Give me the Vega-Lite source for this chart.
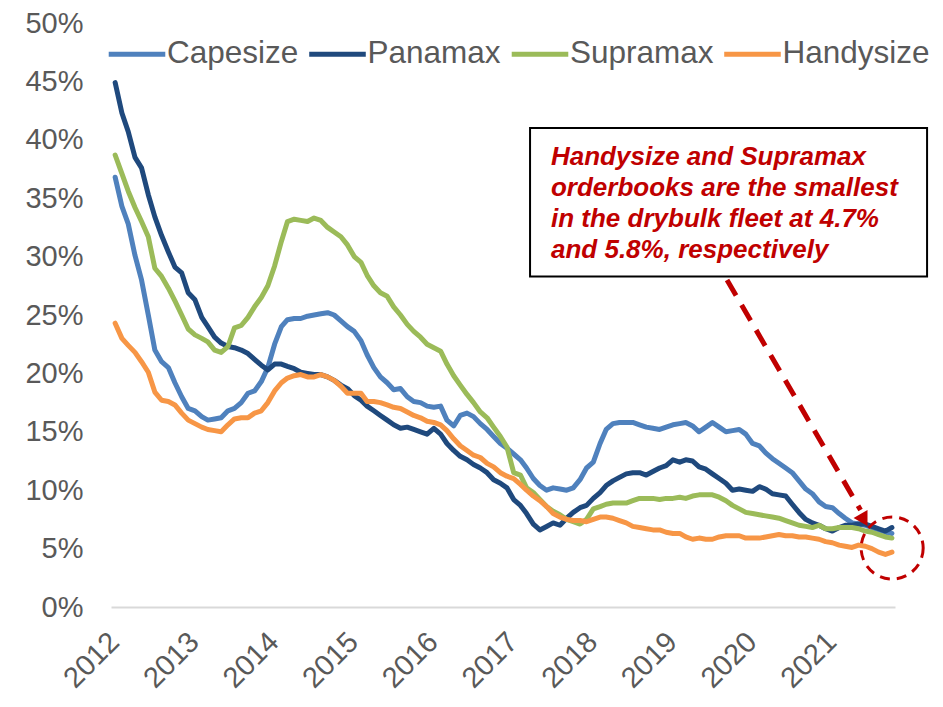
{
  "$schema": "https://vega.github.io/schema/vega-lite/v6.json",
  "width": 784,
  "height": 584,
  "autosize": {"type": "none"},
  "padding": {"left": 111, "top": 23, "right": 48, "bottom": 100},
  "background": "white",
  "config": {
    "font": "Liberation Sans",
    "view": {"stroke": null},
    "axisX": {"labelAngle": -45, "labelFontSize": 29, "labelColor": "#595959", "ticks": false, "grid": false, "domainColor": "#D9D9D9", "domainWidth": 2, "labelPadding": 20, "labelOffset": -11, "labelOverlap": false, "labelFlush": false},
    "axisY": {"domain": false, "ticks": false, "grid": false, "labelFontSize": 29, "labelColor": "#595959", "labelPadding": 28}
  },
  "layer": [
    {
      "data": {"values": [
        {"d":"2012-01-01","Capesize":36.8,"Panamax":44.9,"Supramax":38.7,"Handysize":24.3},
        {"d":"2012-02-01","Capesize":34.3,"Panamax":42.3,"Supramax":37.1,"Handysize":23.0},
        {"d":"2012-03-01","Capesize":32.8,"Panamax":40.7,"Supramax":35.6,"Handysize":22.4},
        {"d":"2012-04-01","Capesize":30.1,"Panamax":38.5,"Supramax":34.2,"Handysize":21.8},
        {"d":"2012-05-01","Capesize":28.0,"Panamax":37.6,"Supramax":33.0,"Handysize":21.0},
        {"d":"2012-06-01","Capesize":25.0,"Panamax":35.3,"Supramax":31.7,"Handysize":20.1},
        {"d":"2012-07-01","Capesize":22.0,"Panamax":33.4,"Supramax":29.0,"Handysize":18.4},
        {"d":"2012-08-01","Capesize":21.0,"Panamax":31.8,"Supramax":28.3,"Handysize":17.7},
        {"d":"2012-09-01","Capesize":20.5,"Panamax":30.4,"Supramax":27.3,"Handysize":17.6},
        {"d":"2012-10-01","Capesize":19.2,"Panamax":29.1,"Supramax":26.2,"Handysize":17.3},
        {"d":"2012-11-01","Capesize":18.0,"Panamax":28.6,"Supramax":25.0,"Handysize":16.6},
        {"d":"2012-12-01","Capesize":17.0,"Panamax":26.9,"Supramax":23.8,"Handysize":16.0},
        {"d":"2013-01-01","Capesize":16.8,"Panamax":26.3,"Supramax":23.3,"Handysize":15.7},
        {"d":"2013-02-01","Capesize":16.3,"Panamax":24.8,"Supramax":23.0,"Handysize":15.4},
        {"d":"2013-03-01","Capesize":16.0,"Panamax":24.0,"Supramax":22.7,"Handysize":15.2},
        {"d":"2013-04-01","Capesize":16.1,"Panamax":23.1,"Supramax":22.0,"Handysize":15.1},
        {"d":"2013-05-01","Capesize":16.2,"Panamax":22.6,"Supramax":21.8,"Handysize":15.0},
        {"d":"2013-06-01","Capesize":16.8,"Panamax":22.3,"Supramax":22.3,"Handysize":15.6},
        {"d":"2013-07-01","Capesize":17.0,"Panamax":22.2,"Supramax":23.9,"Handysize":16.1},
        {"d":"2013-08-01","Capesize":17.5,"Panamax":22.0,"Supramax":24.1,"Handysize":16.2},
        {"d":"2013-09-01","Capesize":18.3,"Panamax":21.7,"Supramax":24.8,"Handysize":16.2},
        {"d":"2013-10-01","Capesize":18.5,"Panamax":21.2,"Supramax":25.7,"Handysize":16.6},
        {"d":"2013-11-01","Capesize":19.3,"Panamax":20.7,"Supramax":26.5,"Handysize":16.8},
        {"d":"2013-12-01","Capesize":20.5,"Panamax":20.3,"Supramax":27.5,"Handysize":17.5},
        {"d":"2014-01-01","Capesize":22.5,"Panamax":20.8,"Supramax":29.2,"Handysize":18.5},
        {"d":"2014-02-01","Capesize":24.0,"Panamax":20.8,"Supramax":31.3,"Handysize":19.2},
        {"d":"2014-03-01","Capesize":24.6,"Panamax":20.6,"Supramax":33.0,"Handysize":19.6},
        {"d":"2014-04-01","Capesize":24.7,"Panamax":20.4,"Supramax":33.2,"Handysize":19.8},
        {"d":"2014-05-01","Capesize":24.7,"Panamax":20.1,"Supramax":33.1,"Handysize":19.9},
        {"d":"2014-06-01","Capesize":24.9,"Panamax":20.0,"Supramax":33.0,"Handysize":19.7},
        {"d":"2014-07-01","Capesize":25.0,"Panamax":19.9,"Supramax":33.3,"Handysize":19.7},
        {"d":"2014-08-01","Capesize":25.1,"Panamax":19.9,"Supramax":33.1,"Handysize":19.9},
        {"d":"2014-09-01","Capesize":25.2,"Panamax":19.7,"Supramax":32.5,"Handysize":19.7},
        {"d":"2014-10-01","Capesize":25.0,"Panamax":19.4,"Supramax":32.1,"Handysize":19.4},
        {"d":"2014-11-01","Capesize":24.5,"Panamax":19.0,"Supramax":31.7,"Handysize":18.9},
        {"d":"2014-12-01","Capesize":24.0,"Panamax":18.7,"Supramax":31.0,"Handysize":18.3},
        {"d":"2015-01-01","Capesize":23.6,"Panamax":18.1,"Supramax":30.0,"Handysize":18.3},
        {"d":"2015-02-01","Capesize":22.8,"Panamax":17.7,"Supramax":29.5,"Handysize":18.3},
        {"d":"2015-03-01","Capesize":21.6,"Panamax":17.2,"Supramax":28.4,"Handysize":17.6},
        {"d":"2015-04-01","Capesize":20.5,"Panamax":16.8,"Supramax":27.5,"Handysize":17.6},
        {"d":"2015-05-01","Capesize":19.7,"Panamax":16.4,"Supramax":26.9,"Handysize":17.5},
        {"d":"2015-06-01","Capesize":19.2,"Panamax":16.0,"Supramax":26.6,"Handysize":17.3},
        {"d":"2015-07-01","Capesize":18.6,"Panamax":15.6,"Supramax":25.7,"Handysize":17.1},
        {"d":"2015-08-01","Capesize":18.7,"Panamax":15.3,"Supramax":25.0,"Handysize":17.0},
        {"d":"2015-09-01","Capesize":18.0,"Panamax":15.4,"Supramax":24.2,"Handysize":16.7},
        {"d":"2015-10-01","Capesize":17.6,"Panamax":15.2,"Supramax":23.6,"Handysize":16.4},
        {"d":"2015-11-01","Capesize":17.5,"Panamax":15.0,"Supramax":23.1,"Handysize":16.2},
        {"d":"2015-12-01","Capesize":17.2,"Panamax":14.8,"Supramax":22.5,"Handysize":15.9},
        {"d":"2016-01-01","Capesize":17.1,"Panamax":15.3,"Supramax":22.2,"Handysize":15.8},
        {"d":"2016-02-01","Capesize":17.2,"Panamax":14.8,"Supramax":21.9,"Handysize":15.6},
        {"d":"2016-03-01","Capesize":16.0,"Panamax":14.0,"Supramax":20.8,"Handysize":15.1},
        {"d":"2016-04-01","Capesize":15.5,"Panamax":13.4,"Supramax":19.8,"Handysize":14.4},
        {"d":"2016-05-01","Capesize":16.4,"Panamax":12.9,"Supramax":19.0,"Handysize":13.8},
        {"d":"2016-06-01","Capesize":16.6,"Panamax":12.6,"Supramax":18.2,"Handysize":13.4},
        {"d":"2016-07-01","Capesize":16.3,"Panamax":12.2,"Supramax":17.5,"Handysize":13.0},
        {"d":"2016-08-01","Capesize":15.7,"Panamax":11.9,"Supramax":16.7,"Handysize":12.8},
        {"d":"2016-09-01","Capesize":15.2,"Panamax":11.5,"Supramax":16.2,"Handysize":12.3},
        {"d":"2016-10-01","Capesize":14.6,"Panamax":10.9,"Supramax":15.4,"Handysize":12.0},
        {"d":"2016-11-01","Capesize":14.0,"Panamax":10.6,"Supramax":14.6,"Handysize":11.5},
        {"d":"2016-12-01","Capesize":13.6,"Panamax":10.2,"Supramax":13.7,"Handysize":11.2},
        {"d":"2017-01-01","Capesize":13.1,"Panamax":9.2,"Supramax":11.5,"Handysize":11.0},
        {"d":"2017-02-01","Capesize":12.6,"Panamax":8.7,"Supramax":11.3,"Handysize":10.5},
        {"d":"2017-03-01","Capesize":11.9,"Panamax":8.0,"Supramax":10.2,"Handysize":10.0},
        {"d":"2017-04-01","Capesize":11.0,"Panamax":7.1,"Supramax":9.8,"Handysize":9.5},
        {"d":"2017-05-01","Capesize":10.4,"Panamax":6.6,"Supramax":9.2,"Handysize":9.1},
        {"d":"2017-06-01","Capesize":10.0,"Panamax":6.9,"Supramax":8.6,"Handysize":8.6},
        {"d":"2017-07-01","Capesize":10.2,"Panamax":7.2,"Supramax":8.2,"Handysize":8.0},
        {"d":"2017-08-01","Capesize":10.1,"Panamax":7.0,"Supramax":7.9,"Handysize":7.7},
        {"d":"2017-09-01","Capesize":10.0,"Panamax":7.6,"Supramax":7.5,"Handysize":7.5},
        {"d":"2017-10-01","Capesize":10.2,"Panamax":8.1,"Supramax":7.3,"Handysize":7.4},
        {"d":"2017-11-01","Capesize":10.9,"Panamax":8.5,"Supramax":7.1,"Handysize":7.4},
        {"d":"2017-12-01","Capesize":11.9,"Panamax":8.7,"Supramax":7.5,"Handysize":7.3},
        {"d":"2018-01-01","Capesize":12.4,"Panamax":9.3,"Supramax":8.4,"Handysize":7.5},
        {"d":"2018-02-01","Capesize":14.0,"Panamax":9.8,"Supramax":8.6,"Handysize":7.7},
        {"d":"2018-03-01","Capesize":15.2,"Panamax":10.4,"Supramax":8.8,"Handysize":7.7},
        {"d":"2018-04-01","Capesize":15.7,"Panamax":10.8,"Supramax":8.9,"Handysize":7.6},
        {"d":"2018-05-01","Capesize":15.8,"Panamax":11.1,"Supramax":8.9,"Handysize":7.4},
        {"d":"2018-06-01","Capesize":15.8,"Panamax":11.4,"Supramax":8.9,"Handysize":7.2},
        {"d":"2018-07-01","Capesize":15.8,"Panamax":11.5,"Supramax":9.1,"Handysize":6.9},
        {"d":"2018-08-01","Capesize":15.6,"Panamax":11.5,"Supramax":9.3,"Handysize":6.8},
        {"d":"2018-09-01","Capesize":15.4,"Panamax":11.3,"Supramax":9.3,"Handysize":6.7},
        {"d":"2018-10-01","Capesize":15.3,"Panamax":11.6,"Supramax":9.3,"Handysize":6.6},
        {"d":"2018-11-01","Capesize":15.2,"Panamax":11.9,"Supramax":9.2,"Handysize":6.6},
        {"d":"2018-12-01","Capesize":15.4,"Panamax":12.1,"Supramax":9.3,"Handysize":6.4},
        {"d":"2019-01-01","Capesize":15.6,"Panamax":12.6,"Supramax":9.3,"Handysize":6.3},
        {"d":"2019-02-01","Capesize":15.7,"Panamax":12.4,"Supramax":9.4,"Handysize":6.3},
        {"d":"2019-03-01","Capesize":15.8,"Panamax":12.6,"Supramax":9.3,"Handysize":6.0},
        {"d":"2019-04-01","Capesize":15.5,"Panamax":12.5,"Supramax":9.5,"Handysize":5.8},
        {"d":"2019-05-01","Capesize":15.0,"Panamax":12.0,"Supramax":9.6,"Handysize":5.9},
        {"d":"2019-06-01","Capesize":15.4,"Panamax":11.8,"Supramax":9.6,"Handysize":5.8},
        {"d":"2019-07-01","Capesize":15.8,"Panamax":11.4,"Supramax":9.6,"Handysize":5.8},
        {"d":"2019-08-01","Capesize":15.4,"Panamax":11.0,"Supramax":9.4,"Handysize":6.0},
        {"d":"2019-09-01","Capesize":15.0,"Panamax":10.6,"Supramax":9.1,"Handysize":6.1},
        {"d":"2019-10-01","Capesize":15.1,"Panamax":10.0,"Supramax":8.7,"Handysize":6.1},
        {"d":"2019-11-01","Capesize":15.2,"Panamax":10.1,"Supramax":8.4,"Handysize":6.1},
        {"d":"2019-12-01","Capesize":14.8,"Panamax":10.0,"Supramax":8.1,"Handysize":5.9},
        {"d":"2020-01-01","Capesize":14.0,"Panamax":9.9,"Supramax":8.0,"Handysize":5.9},
        {"d":"2020-02-01","Capesize":13.8,"Panamax":10.3,"Supramax":7.9,"Handysize":5.9},
        {"d":"2020-03-01","Capesize":13.2,"Panamax":10.1,"Supramax":7.8,"Handysize":6.0},
        {"d":"2020-04-01","Capesize":12.7,"Panamax":9.7,"Supramax":7.7,"Handysize":6.1},
        {"d":"2020-05-01","Capesize":12.3,"Panamax":9.6,"Supramax":7.6,"Handysize":6.2},
        {"d":"2020-06-01","Capesize":11.9,"Panamax":9.5,"Supramax":7.4,"Handysize":6.1},
        {"d":"2020-07-01","Capesize":11.5,"Panamax":8.8,"Supramax":7.2,"Handysize":6.1},
        {"d":"2020-08-01","Capesize":10.8,"Panamax":8.1,"Supramax":7.0,"Handysize":6.0},
        {"d":"2020-09-01","Capesize":10.1,"Panamax":7.5,"Supramax":6.9,"Handysize":6.0},
        {"d":"2020-10-01","Capesize":9.7,"Panamax":7.2,"Supramax":6.8,"Handysize":5.9},
        {"d":"2020-11-01","Capesize":9.0,"Panamax":7.0,"Supramax":7.0,"Handysize":5.8},
        {"d":"2020-12-01","Capesize":8.6,"Panamax":6.7,"Supramax":6.7,"Handysize":5.6},
        {"d":"2021-01-01","Capesize":8.5,"Panamax":6.5,"Supramax":6.7,"Handysize":5.5},
        {"d":"2021-02-01","Capesize":8.0,"Panamax":6.8,"Supramax":6.8,"Handysize":5.3},
        {"d":"2021-03-01","Capesize":7.6,"Panamax":7.0,"Supramax":6.8,"Handysize":5.2},
        {"d":"2021-04-01","Capesize":7.2,"Panamax":7.0,"Supramax":6.8,"Handysize":5.1},
        {"d":"2021-05-01","Capesize":7.1,"Panamax":7.1,"Supramax":6.7,"Handysize":5.3},
        {"d":"2021-06-01","Capesize":7.0,"Panamax":7.1,"Supramax":6.5,"Handysize":5.2},
        {"d":"2021-07-01","Capesize":6.8,"Panamax":6.9,"Supramax":6.4,"Handysize":5.0},
        {"d":"2021-08-01","Capesize":6.6,"Panamax":6.7,"Supramax":6.2,"Handysize":4.7},
        {"d":"2021-09-01","Capesize":6.4,"Panamax":6.5,"Supramax":6.0,"Handysize":4.5},
        {"d":"2021-10-01","Capesize":6.3,"Panamax":6.8,"Supramax":5.9,"Handysize":4.7}
      ]},
      "transform": [{"fold": ["Capesize", "Panamax", "Supramax", "Handysize"], "as": ["series", "v"]}],
      "mark": {"type": "line", "strokeWidth": 5, "strokeCap": "round", "strokeJoin": "round"},
      "encoding": {
        "x": {"field": "d", "type": "temporal", "title": null,
              "scale": {"domain": [{"year": 2011, "month": 12, "date": 13}, {"year": 2021, "month": 10, "date": 15}]},
              "axis": {"format": "%Y", "tickCount": {"interval": "year", "step": 1}}},
        "y": {"field": "v", "type": "quantitative", "title": null,
              "scale": {"domain": [0, 50], "nice": false},
              "axis": {"values": [0, 5, 10, 15, 20, 25, 30, 35, 40, 45, 50], "labelExpr": "datum.value + '%'"}},
        "color": {"field": "series", "type": "nominal",
                  "scale": {"domain": ["Capesize", "Panamax", "Supramax", "Handysize"], "range": ["#4F81BD", "#1F497D", "#9BBB59", "#F79646"]},
                  "legend": {"title": null, "orient": "none", "legendX": -5, "legendY": 0, "direction": "horizontal",
                             "symbolType": "stroke", "symbolStrokeWidth": 5, "symbolSize": 3200,
                             "labelFontSize": 31.5, "labelColor": "#595959", "columnPadding": -0.5, "labelOffset": -1}}
      }
    },
    {
      "data": {"values": [{"x1": "2017-03-17", "x2": "2022-03-11", "y1": 41.0, "y2": 28.3}]},
      "mark": {"type": "rect", "fill": "white", "stroke": "black", "strokeWidth": 2},
      "encoding": {
        "x": {"field": "x1", "type": "temporal", "title": null},
        "x2": {"field": "x2"},
        "y": {"field": "y1", "type": "quantitative", "title": null},
        "y2": {"field": "y2"}
      }
    },
    {
      "data": {"values": [{"x": "2017-06-21", "y": 37.8}]},
      "mark": {"type": "text", "text": ["Handysize and Supramax", "orderbooks are the smallest", "in the drybulk fleet at 4.7%", "and 5.8%, respectively"],
               "align": "left", "baseline": "alphabetic", "lineHeight": 31, "fontSize": 26, "fontWeight": "bold", "fontStyle": "italic", "color": "#C00000"},
      "encoding": {
        "x": {"field": "x", "type": "temporal", "title": null},
        "y": {"field": "y", "type": "quantitative", "title": null}
      }
    },
    {
      "data": {"values": [{"x1": "2019-09-06", "y1": 28.0, "x2": "2021-05-10", "y2": 8.3}]},
      "mark": {"type": "rule", "strokeWidth": 5, "strokeDash": [18, 11], "color": "#C00000"},
      "encoding": {
        "x": {"field": "x1", "type": "temporal", "title": null},
        "y": {"field": "y1", "type": "quantitative", "title": null},
        "x2": {"field": "x2"},
        "y2": {"field": "y2"}
      }
    },
    {
      "data": {"values": [{"x": "2021-05-26", "y": 7.45}]},
      "mark": {"type": "point", "shape": "triangle-down", "filled": true, "size": 260, "angle": -30, "color": "#C00000", "opacity": 1},
      "encoding": {
        "x": {"field": "x", "type": "temporal", "title": null},
        "y": {"field": "y", "type": "quantitative", "title": null}
      }
    },
    {
      "data": {"values": [{"x": "2021-10-02", "y": 5.05}]},
      "mark": {"type": "point", "shape": "circle", "filled": false, "size": 3848, "strokeWidth": 3, "strokeDash": [10, 7], "color": "#C00000", "opacity": 1},
      "encoding": {
        "x": {"field": "x", "type": "temporal", "title": null},
        "y": {"field": "y", "type": "quantitative", "title": null}
      }
    }
  ]
}
